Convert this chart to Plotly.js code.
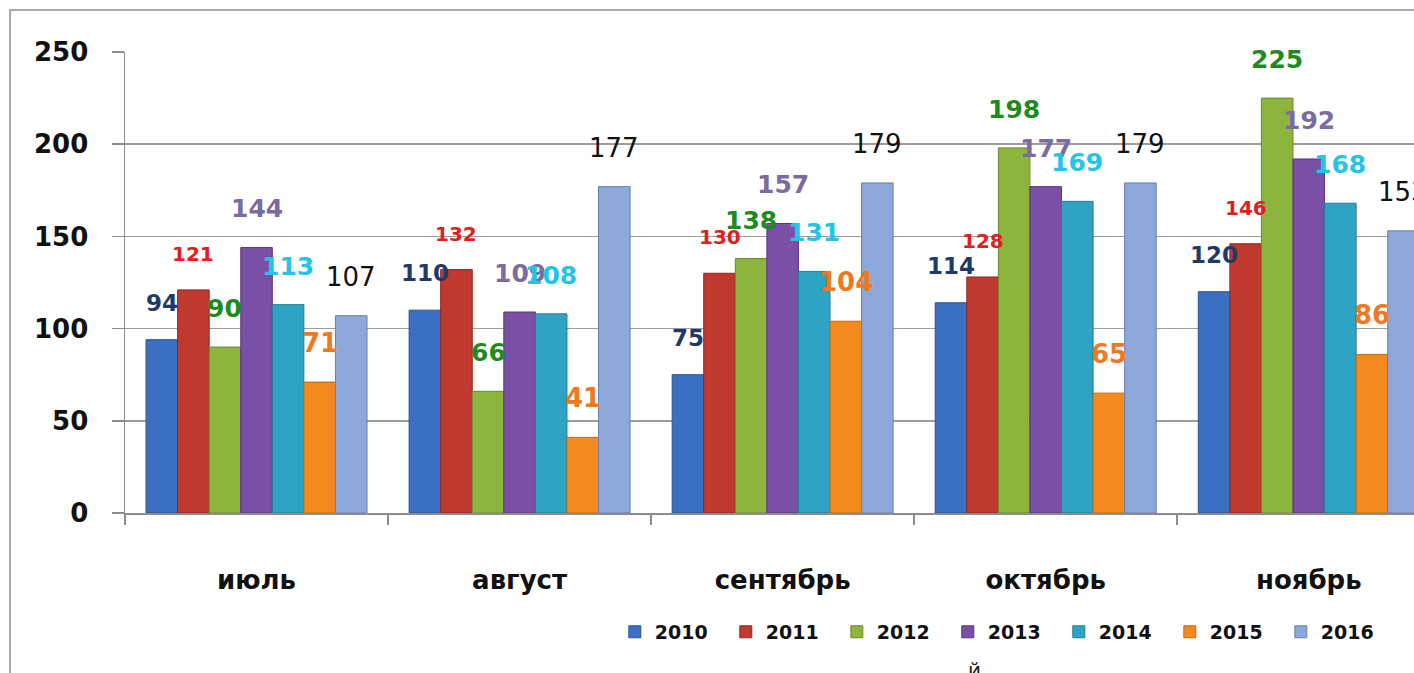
<!DOCTYPE html>
<html>
<head>
<meta charset="utf-8">
<script src="https://cdn.plot.ly/plotly-3.0.1.min.js"></script>
<style>
  html, body { margin: 0; padding: 0; background: #fff; }
  #myPlot { width: 1414px; height: 673px; }
</style>
</head>
<body>
<div id="myPlot"></div>
<script>
// months on the x axis
let months = ["июль", "август", "сентябрь", "октябрь", "ноябрь"];

// one array per year
let y2010 = [94, 110, 75, 114, 120];
let y2011 = [121, 132, 130, 128, 146];
let y2012 = [90, 66, 138, 198, 225];
let y2013 = [144, 109, 157, 177, 192];
let y2014 = [113, 108, 131, 169, 168];
let y2015 = [71, 41, 104, 65, 86];
let y2016 = [107, 177, 179, 179, 153];

let years = ["2010", "2011", "2012", "2013", "2014", "2015", "2016"];
let yTicks = [0, 50, 100, 150, 200, 250];

let seriesValues = [y2010, y2011, y2012, y2013, y2014, y2015, y2016];

// bar fill, bar edge, label colour, label size, label weight
let barColors = ["#3b6fc1", "#c0392f", "#8db43c", "#7a4fa6", "#2fa3c4", "#f48a1e", "#8ba8d8"];
let edgeColors = ["#2a5296", "#8f2620", "#6a8a2a", "#5a3680", "#217d97", "#c06a10", "#6880b0"];
let labelColors = ["#1f3a68", "#e02020", "#1e8b1e", "#7b6ba0", "#22c4e8", "#f07820", "#111111"];
let labelSizes = [23, 20, 25, 25, 25, 26, 26];
let labelWeights = ["bold", "bold", "bold", "bold", "bold", "bold", "normal"];

const bargap = 0.16;
const barWidthCat = (1 - bargap) / years.length;

function buildTraces() {
    let traces = [];
    for (let i = 0; i < years.length; i++) {
        traces.push({
            type: 'bar',
            name: years[i],
            x: months,
            y: seriesValues[i],
            marker: {
                color: barColors[i],
                line: { color: edgeColors[i], width: 1 }
            },
            hoverinfo: 'x+y+name'
        });
    }
    return traces;
}

// value labels sit above each bar, placed from the data through the axes
function buildLabels() {
    let annotations = [];
    for (let i = 0; i < years.length; i++) {
        for (let j = 0; j < months.length; j++) {
            annotations.push({
                x: j + (i - (years.length - 1) / 2) * barWidthCat,
                y: seriesValues[i][j],
                xref: 'x',
                yref: 'y',
                text: String(seriesValues[i][j]),
                showarrow: false,
                yanchor: 'bottom',
                yshift: 22,
                font: {
                    family: '"DejaVu Sans", sans-serif',
                    size: labelSizes[i],
                    color: labelColors[i],
                    weight: labelWeights[i]
                }
            });
        }
    }
    // stray letter at the bottom edge of the picture
    annotations.push({
        x: 0.659, y: -0.31, xref: 'paper', yref: 'paper',
        text: 'й', showarrow: false, yanchor: 'top',
        font: { family: '"DejaVu Sans", sans-serif', size: 20, color: '#222' }
    });
    return annotations;
}

function renderChart() {
    const layout = {
        width: 1414,
        height: 673,
        margin: { l: 125, r: 0, t: 52, b: 160 },
        paper_bgcolor: '#ffffff',
        plot_bgcolor: '#ffffff',
        barmode: 'group',
        bargap: bargap,
        bargroupgap: 0,
        showlegend: true,
        legend: {
            orientation: 'h',
            x: 0.38,
            xanchor: 'left',
            y: -0.258,
            yanchor: 'middle',
            entrywidth: 66,
            entrywidthmode: 'pixels',
            itemwidth: 30,
            font: { family: '"DejaVu Sans", sans-serif', size: 19, color: '#111', weight: 'bold' }
        },
        xaxis: {
            type: 'category',
            range: [-0.5, 4.4],
            tickson: 'boundaries',
            ticks: 'outside',
            ticklen: 10,
            tickwidth: 1.5,
            tickcolor: '#8c8c8c',
            showline: true,
            linecolor: '#8c8c8c',
            linewidth: 1.5,
            showgrid: false,
            ticklabelstandoff: 43,
            tickfont: { family: '"DejaVu Sans", sans-serif', size: 26, color: '#111', weight: 'bold' }
        },
        yaxis: {
            range: [0, 250],
            tickvals: yTicks,
            ticktext: yTicks.map(String),
            ticks: 'outside',
            ticklen: 12,
            tickwidth: 1.5,
            tickcolor: '#8c8c8c',
            showline: true,
            linecolor: '#8c8c8c',
            linewidth: 1.5,
            showgrid: true,
            gridcolor: '#9c9c9c',
            gridwidth: 1.5,
            zeroline: false,
            ticklabelstandoff: 18,
            tickfont: { family: '"DejaVu Sans", sans-serif', size: 26, color: '#111', weight: 'bold' }
        },
        annotations: buildLabels(),
        shapes: [
            // outer chart frame (left and top edges are visible)
            {
                type: 'rect', xref: 'paper', yref: 'paper',
                x0: -0.0892, x1: 1.2, y0: -0.5, y1: 1.091,
                line: { color: '#a8a8a8', width: 2 },
                layer: 'below'
            }
        ]
    };

    Plotly.newPlot('myPlot', buildTraces(), layout, { displayModeBar: false, staticPlot: true });
}

renderChart();
</script>
</body>
</html>
